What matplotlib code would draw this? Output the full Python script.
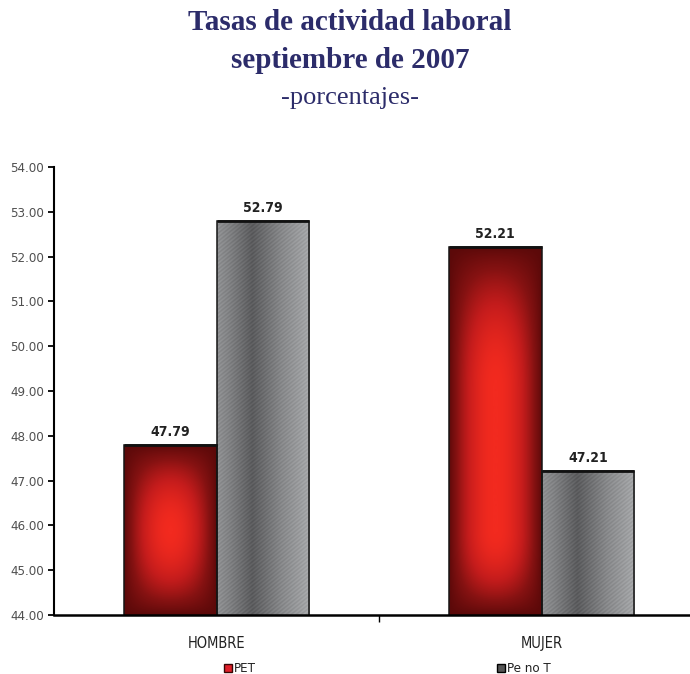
import numpy as np
import matplotlib
matplotlib.use("Agg")
import matplotlib.pyplot as plt
from matplotlib.colors import LinearSegmentedColormap
from matplotlib.patches import Patch
from matplotlib import font_manager

# Data
categories = ["HOMBRE", "MUJER"]
series_names = ["PET", "Pe no T"]
pet_values = [47.79, 52.21]
penot_values = [52.79, 47.21]
y_ticks = [44.0, 45.0, 46.0, 47.0, 48.0, 49.0, 50.0, 51.0, 52.0, 53.0, 54.0]

title_lines = ["Tasas de actividad laboral", "septiembre de 2007", "-porcentajes-"]

# pick a condensed sans face if one is installed
cond = [f for f in font_manager.fontManager.ttflist
        if f.name == "DejaVu Sans" and "Condensed" in f.fname]
NARROW_STRETCH = "condensed" if cond else "normal"
NARROW = ["DejaVu Sans"] if cond else ["Liberation Sans", "DejaVu Sans"]
SERIF = ["Liberation Serif", "DejaVu Serif"]
NAVY = "#2c2c6a"

W, H, DPI = 690, 674, 100
fig = plt.figure(figsize=(W / DPI, H / DPI), dpi=DPI)
fig.patch.set_facecolor("white")

# axes: y-axis at x=54px, baseline at y=615px, top (54.00) at y=167px
ax_left, ax_right = 54, 704
ax_bottom, ax_top = 615, 167
ax = fig.add_axes([ax_left / W, (H - ax_bottom) / H,
                   (ax_right - ax_left) / W, (ax_bottom - ax_top) / H])
ymin, ymax = y_ticks[0], y_ticks[-1]
ax.set_xlim(-0.5, 1.5)
ax.set_ylim(ymin, ymax)

bar_w = 0.286
x = np.arange(len(categories))

red_cmap = LinearSegmentedColormap.from_list(
    "redglow", ["#5a0909", "#861212", "#c41c1c", "#f22a1f"])
gray_cmap = LinearSegmentedColormap.from_list(
    "steel", ["#3a3a3c", "#c4c6c8"])

px_per_x = (ax_right - ax_left) / 2.0
px_per_y = (ax_bottom - ax_top) / (ymax - ymin)


def red_fill(x0, x1, top):
    wpx = (x1 - x0) * px_per_x
    hpx = (top - ymin) * px_per_y
    nx, ny = int(wpx * 2), max(int(hpx * 2), 2)
    xs = np.linspace(0, wpx, nx)
    ys = np.linspace(0, hpx, ny)
    X, Y = np.meshgrid(xs, ys)
    tx = np.minimum(X, wpx - X) / (wpx / 2)
    top_len = min(hpx / 2, 140.0)
    bot_len = min(hpx / 2, 85.0)
    ty = np.clip(np.minimum((hpx - Y) / top_len, Y / bot_len), 0, 1)
    t = (np.sin(tx * np.pi / 2) * np.sin(ty * np.pi / 2)) ** 0.8
    return t


def gray_fill(x0, x1, top):
    wpx = (x1 - x0) * px_per_x
    hpx = (top - ymin) * px_per_y
    nx, ny = int(wpx * 3), max(int(hpx * 3), 2)
    xs = np.linspace(0, wpx, nx)
    ys = np.linspace(0, hpx, ny)
    X, Y = np.meshgrid(xs, ys)
    u = X / wpx
    prof = np.interp(u, [0.0, 0.12, 0.38, 0.7, 1.0],
                     [0.62, 0.52, 0.24, 0.56, 0.78])
    stripes = 0.07 * np.sin(2 * np.pi * (0.8 * X - Y) / 4.0)
    return np.clip(prof + stripes, 0, 1)


def draw_bars(offset, values, kind):
    bars = ax.bar(x + offset, values, width=bar_w,
                  facecolor="none", edgecolor="#151515", linewidth=1.1, zorder=3)
    for rect, v in zip(bars, values):
        x0 = rect.get_x()
        x1 = x0 + rect.get_width()
        if kind == "red":
            arr, cmap = red_fill(x0, x1, v), red_cmap
        else:
            arr, cmap = gray_fill(x0, x1, v), gray_cmap
        im = ax.imshow(arr, extent=[x0, x1, ymin, v], origin="lower",
                       cmap=cmap, vmin=0, vmax=1, aspect="auto",
                       interpolation="bilinear", zorder=2)
        im.set_clip_path(rect)
        ax.annotate(f"{v:.2f}", xy=(rect.get_x() + rect.get_width() / 2, v),
                    xytext=(0, 6), textcoords="offset pixels",
                    ha="center", va="bottom", fontsize=10, fontweight="bold",
                    family=NARROW, fontstretch=NARROW_STRETCH, color="#222222")
    # heavier top edge
    for rect, v in zip(bars, values):
        ax.plot([rect.get_x(), rect.get_x() + rect.get_width()], [v, v],
                color="#111111", linewidth=2.0, zorder=4, solid_capstyle="butt")
    return bars


draw_bars(-bar_w / 2, pet_values, "red")
draw_bars(bar_w / 2, penot_values, "gray")

# axes styling
for s in ("top", "right"):
    ax.spines[s].set_visible(False)
ax.spines["left"].set_linewidth(1.5)
ax.spines["bottom"].set_linewidth(1.8)
ax.spines["left"].set_zorder(5)
ax.spines["bottom"].set_zorder(5)

ax.set_yticks(y_ticks)
ax.set_yticklabels([f"{t:.2f}" for t in y_ticks], family=NARROW,
                   fontstretch=NARROW_STRETCH, fontsize=9.5, color="#505050")
ax.tick_params(axis="y", direction="out", length=4, width=1.3, pad=3)

ax.set_xticks(x)
ax.set_xticklabels(categories, family=NARROW, fontstretch=NARROW_STRETCH,
                   fontsize=10.5, color="#222222")
ax.tick_params(axis="x", which="major", length=0, pad=15)
ax.set_xticks([0.5], minor=True)
ax.tick_params(axis="x", which="minor", direction="out", length=5, width=1.0)

# legend entries
handles = [
    Patch(facecolor="#e0202a", edgecolor="#3a0505", linewidth=1.0),
    Patch(facecolor="#555555", edgecolor="#000000", linewidth=1.0),
]
for h, name, xpx in zip(handles, series_names, [224, 497]):
    fig.legend(handles=[h], labels=[name], loc="center left",
               bbox_to_anchor=(xpx / W, (H - 669) / H),
               frameon=False, borderpad=0, borderaxespad=0,
               handlelength=0.6, handleheight=0.6, handletextpad=0.15,
               prop={"family": NARROW, "size": 9.5, "stretch": NARROW_STRETCH},
               labelcolor="#222222")

# titles
fig.text(350 / W, 1 - 23 / H, title_lines[0], ha="center", va="center",
         family=SERIF, fontweight="bold", fontsize=21, color=NAVY)
fig.text(350 / W, 1 - 61 / H, title_lines[1], ha="center", va="center",
         family=SERIF, fontweight="bold", fontsize=21, color=NAVY)
fig.text(350 / W, 1 - 98 / H, title_lines[2], ha="center", va="center",
         family=SERIF, fontsize=19, color=NAVY)

fig.savefig("out.png", dpi=DPI)
